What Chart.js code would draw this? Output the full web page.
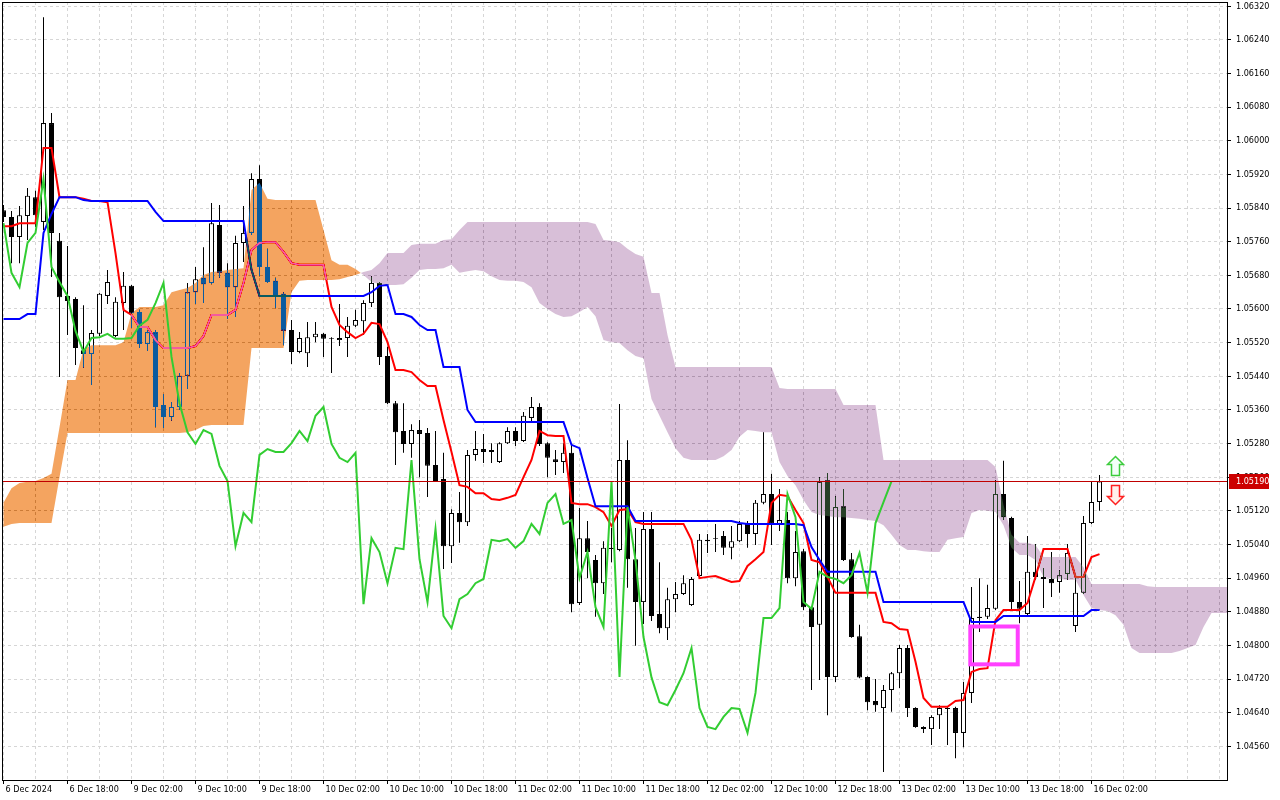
<!DOCTYPE html>
<html>
<head>
<meta charset="utf-8">
<title>EURUSD H1 - Ichimoku</title>
<script src="https://cdn.jsdelivr.net/npm/chart.js@4.4.1/dist/chart.umd.min.js"></script>
<style>
  html, body { margin: 0; padding: 0; background: #fff; }
  canvas { display: block; }
</style>
</head>
<body>
<canvas id="chart" width="1280" height="800"></canvas>
<script>
// bottom axis: one label every 8 hourly bars
const timeLabels = ['6 Dec 2024', '6 Dec 18:00', '9 Dec 02:00', '9 Dec 10:00', '9 Dec 18:00',
  '10 Dec 02:00', '10 Dec 10:00', '10 Dec 18:00', '11 Dec 02:00', '11 Dec 10:00', '11 Dec 18:00',
  '12 Dec 02:00', '12 Dec 10:00', '12 Dec 18:00', '13 Dec 02:00', '13 Dec 10:00', '13 Dec 18:00',
  '16 Dec 02:00'];

const priceTicks = [1.04560, 1.04640, 1.04720, 1.04800, 1.04880, 1.04960, 1.05040, 1.05120,
  1.05200, 1.05280, 1.05360, 1.05440, 1.05520, 1.05600, 1.05680, 1.05760, 1.05840, 1.05920,
  1.06000, 1.06080, 1.06160, 1.06240, 1.06320];

// H1 candles
const opens = [1.05835,1.05819,1.05771,1.05821,1.05866,1.05807,1.06042,1.05762,1.05631,1.05624,
  1.05502,1.05493,1.05541,1.05631,1.05536,1.05614,1.05655,1.05593,1.05517,1.05545,
  1.05372,1.05343,1.05367,1.05441,1.05640,1.05674,1.05662,1.05800,1.05686,1.05652,
  1.05757,1.05781,1.05909,1.05700,1.05667,1.05636,1.05550,1.05498,1.05495,1.05533,
  1.05541,1.05531,1.05526,1.05531,1.05560,1.05571,1.05614,1.05662,1.05488,1.05376,
  1.05310,1.05279,1.05312,1.05305,1.05229,1.05196,1.05036,1.05115,1.05093,1.05253,
  1.05267,1.05265,1.05236,1.05281,1.05310,1.05286,1.05341,1.05367,1.05281,1.05243,
  1.05236,1.05258,1.04901,1.05055,1.05003,1.04948,1.05032,1.05027,1.05241,1.05005,
  1.04903,1.05077,1.04875,1.04841,1.04910,1.04922,1.04896,1.04965,1.05051,1.05055,
  1.05060,1.05032,1.05048,1.05089,1.05065,1.05139,1.05160,1.05089,1.05098,1.04960,
  1.05024,1.04891,1.04849,1.05193,1.04725,1.05131,1.05005,1.04822,1.04725,1.04668,
  1.04651,1.04694,1.04734,1.04794,1.04651,1.04606,1.04601,1.04634,1.04651,1.04651,
  1.04592,1.04687,1.04868,1.04868,1.04887,1.05160,1.05103,1.04903,1.04875,1.04975,
  1.04963,1.04958,1.04951,1.04970,1.04846,1.04925,1.05091,1.05141];
const highs = [1.05847,1.05833,1.05845,1.05888,1.05881,1.06294,1.06066,1.05781,1.05750,1.05628,
  1.05609,1.05550,1.05638,1.05693,1.05628,1.05688,1.05657,1.05598,1.05550,1.05550,
  1.05398,1.05379,1.05448,1.05662,1.05700,1.05747,1.05852,1.05847,1.05709,1.05774,
  1.05845,1.05923,1.05942,1.05743,1.05674,1.05640,1.05574,1.05545,1.05569,1.05569,
  1.05543,1.05533,1.05612,1.05581,1.05598,1.05621,1.05678,1.05664,1.05510,1.05381,
  1.05376,1.05326,1.05336,1.05317,1.05310,1.05258,1.05124,1.05165,1.05265,1.05310,
  1.05303,1.05281,1.05283,1.05319,1.05319,1.05355,1.05391,1.05376,1.05283,1.05265,
  1.05281,1.05277,1.05127,1.05096,1.05015,1.05048,1.05079,1.05374,1.05288,1.05079,
  1.05117,1.05117,1.04998,1.04937,1.04951,1.04967,1.04963,1.05065,1.05065,1.05089,
  1.05072,1.05084,1.05096,1.05096,1.05146,1.05307,1.05208,1.05172,1.05117,1.05072,
  1.05029,1.04893,1.05200,1.05210,1.05155,1.05172,1.05020,1.04849,1.04727,1.04720,
  1.04706,1.04737,1.04801,1.04801,1.04653,1.04608,1.04634,1.04658,1.04654,1.04654,
  1.04713,1.04939,1.04960,1.04944,1.05193,1.05239,1.05106,1.04953,1.05060,1.05041,
  1.04984,1.05022,1.04979,1.05041,1.04970,1.05108,1.05189,1.05205];
const lows = [1.05807,1.05709,1.05709,1.05764,1.05795,1.05788,1.05676,1.05438,1.05538,1.05467,
  1.05460,1.05419,1.05536,1.05612,1.05533,1.05550,1.05555,1.05507,1.05500,1.05319,
  1.05317,1.05334,1.05360,1.05410,1.05612,1.05614,1.05659,1.05674,1.05576,1.05581,
  1.05712,1.05776,1.05678,1.05662,1.05602,1.05514,1.05469,1.05495,1.05462,1.05521,
  1.05486,1.05448,1.05512,1.05486,1.05557,1.05538,1.05605,1.05467,1.05374,1.05229,
  1.05258,1.05246,1.05200,1.05153,1.05189,1.04982,1.04996,1.05044,1.05084,1.05239,
  1.05234,1.05234,1.05234,1.05279,1.05274,1.05284,1.05329,1.05274,1.05200,1.05205,
  1.05210,1.04879,1.04896,1.04960,1.04868,1.04922,1.04998,1.05024,1.04937,1.04799,
  1.04851,1.04858,1.04829,1.04813,1.04879,1.04920,1.04894,1.04963,1.05020,1.05022,
  1.05015,1.05005,1.05046,1.05032,1.05039,1.05136,1.05039,1.05072,1.04948,1.04941,
  1.04884,1.04694,1.04718,1.04634,1.04713,1.05001,1.04818,1.04722,1.04646,1.04642,
  1.04499,1.04642,1.04699,1.04630,1.04604,1.04592,1.04563,1.04601,1.04563,1.04532,
  1.04558,1.04663,1.04832,1.04863,1.04884,1.05098,1.04884,1.04853,1.04872,1.04956,
  1.04889,1.04915,1.04925,1.04956,1.04832,1.04922,1.05089,1.05120];
const closes = [1.05819,1.05771,1.05823,1.05869,1.05823,1.06042,1.05781,1.05628,1.05619,1.05507,
  1.05493,1.05543,1.05636,1.05664,1.05617,1.05655,1.05590,1.05517,1.05545,1.05367,
  1.05343,1.05367,1.05441,1.05640,1.05671,1.05659,1.05804,1.05686,1.05652,1.05757,
  1.05781,1.05909,1.05700,1.05664,1.05631,1.05548,1.05498,1.05531,1.05533,1.05541,
  1.05529,1.05529,1.05531,1.05560,1.05574,1.05614,1.05662,1.05486,1.05376,1.05307,
  1.05279,1.05312,1.05303,1.05227,1.05191,1.05036,1.05115,1.05093,1.05253,1.05267,
  1.05260,1.05260,1.05281,1.05310,1.05286,1.05346,1.05367,1.05279,1.05246,1.05236,
  1.05258,1.04898,1.05055,1.05022,1.04948,1.05032,1.05029,1.05241,1.05005,1.04903,
  1.05077,1.04870,1.04841,1.04910,1.04922,1.04948,1.04958,1.05051,1.05048,1.05053,
  1.05032,1.05048,1.05089,1.05065,1.05139,1.05160,1.05089,1.05098,1.04960,1.05022,
  1.04891,1.04844,1.05189,1.04725,1.05129,1.05003,1.04820,1.04724,1.04665,1.04658,
  1.04694,1.04734,1.04794,1.04651,1.04606,1.04601,1.04630,1.04651,1.04649,1.04592,
  1.04687,1.04865,1.04865,1.04889,1.05160,1.05105,1.04903,1.04887,1.04975,1.04963,
  1.04958,1.04948,1.04967,1.05020,1.04925,1.05091,1.05141,1.05190];

// Ichimoku lines
const tenkan = [1.05797,1.05797,1.05804,1.05804,1.05804,1.05983,1.05983,1.05866,1.05866,1.05866,
  1.05862,1.05857,1.05857,1.05854,1.05733,1.05598,1.05586,1.05557,1.05557,1.05526,
  1.05507,1.05507,1.05507,1.05507,1.05512,1.05536,1.05586,1.05586,1.05586,1.05598,
  1.05662,1.05740,1.05757,1.05759,1.05759,1.05736,1.05709,1.05705,1.05705,1.05705,
  1.05705,1.05605,1.05562,1.05545,1.05531,1.05541,1.05567,1.05564,1.05521,1.05455,
  1.05455,1.05450,1.05431,1.05417,1.05417,1.05336,1.05260,1.05181,1.05177,1.05162,
  1.05162,1.05148,1.05146,1.05151,1.05158,1.05200,1.05241,1.05310,1.05300,1.05298,
  1.05298,1.05139,1.05136,1.05136,1.05129,1.05117,1.05084,1.05122,1.05124,1.05093,
  1.05089,1.05089,1.05089,1.05089,1.05089,1.05089,1.05051,1.04960,1.04963,1.04965,
  1.04958,1.04951,1.04953,1.04989,1.05005,1.05022,1.05139,1.05158,1.05155,1.05122,
  1.05091,1.05003,1.04998,1.04963,1.04925,1.04925,1.04925,1.04925,1.04925,1.04925,
  1.04856,1.04853,1.04839,1.04837,1.04761,1.04675,1.04654,1.04654,1.04654,1.04668,
  1.04670,1.04737,1.04744,1.04746,1.04860,1.04884,1.04884,1.04884,1.04901,1.04963,
  1.05029,1.05029,1.05029,1.05029,1.04963,1.04963,1.05010,1.05017];
const kijun = [1.05576,1.05576,1.05576,1.05588,1.05588,1.05781,1.05826,1.05866,1.05866,1.05866,
  1.05859,1.05857,1.05857,1.05857,1.05857,1.05857,1.05857,1.05857,1.05857,1.05831,
  1.05809,1.05809,1.05809,1.05809,1.05809,1.05809,1.05809,1.05809,1.05809,1.05809,
  1.05809,1.05693,1.05631,1.05631,1.05631,1.05631,1.05631,1.05631,1.05631,1.05631,
  1.05631,1.05631,1.05631,1.05631,1.05631,1.05631,1.05640,1.05655,1.05657,1.05588,
  1.05588,1.05581,1.05562,1.05550,1.05550,1.05462,1.05462,1.05462,1.05360,1.05331,
  1.05331,1.05331,1.05331,1.05331,1.05331,1.05331,1.05331,1.05331,1.05331,1.05331,
  1.05331,1.05277,1.05269,1.05198,1.05131,1.05131,1.05131,1.05131,1.05131,1.05096,
  1.05096,1.05096,1.05096,1.05096,1.05096,1.05096,1.05096,1.05096,1.05096,1.05096,
  1.05096,1.05096,1.05091,1.05089,1.05089,1.05089,1.05089,1.05089,1.05089,1.05089,
  1.05086,1.05034,1.05003,1.04975,1.04975,1.04975,1.04975,1.04975,1.04975,1.04975,
  1.04903,1.04903,1.04903,1.04903,1.04903,1.04903,1.04903,1.04903,1.04903,1.04903,
  1.04903,1.04856,1.04856,1.04856,1.04856,1.04870,1.04870,1.04870,1.04870,1.04870,
  1.04870,1.04870,1.04870,1.04870,1.04870,1.04870,1.04884,1.04884];
const chikou = [1.05804,1.05686,1.05652,1.05757,1.05781,1.05909,1.05700,1.05664,1.05631,1.05548,
  1.05498,1.05531,1.05533,1.05541,1.05529,1.05529,1.05531,1.05560,1.05574,1.05614,
  1.05662,1.05486,1.05376,1.05307,1.05279,1.05312,1.05303,1.05227,1.05191,1.05036,
  1.05115,1.05093,1.05253,1.05267,1.05260,1.05260,1.05281,1.05310,1.05286,1.05346,
  1.05367,1.05279,1.05246,1.05236,1.05258,1.04898,1.05055,1.05022,1.04948,1.05032,
  1.05029,1.05241,1.05005,1.04903,1.05077,1.04870,1.04841,1.04910,1.04922,1.04948,
  1.04958,1.05051,1.05048,1.05053,1.05032,1.05048,1.05089,1.05065,1.05139,1.05160,
  1.05089,1.05098,1.04960,1.05022,1.04891,1.04844,1.05189,1.04725,1.05129,1.05003,
  1.04820,1.04724,1.04665,1.04658,1.04694,1.04734,1.04794,1.04651,1.04606,1.04601,
  1.04630,1.04651,1.04649,1.04592,1.04687,1.04865,1.04865,1.04889,1.05160,1.05105,
  1.04903,1.04887,1.04975,1.04963,1.04958,1.04948,1.04967,1.05020,1.04925,1.05091,
  1.05141,1.05190];
const spanA = [1.05139,1.05174,1.05186,1.05189,1.05191,1.05198,1.05208,1.05319,1.05431,1.05431,
  1.05505,1.05514,1.05514,1.05514,1.05514,1.05521,1.05590,1.05605,1.05605,1.05605,
  1.05609,1.05640,1.05645,1.05650,1.05662,1.05681,1.05688,1.05690,1.05693,1.05695,
  1.05697,1.05883,1.05900,1.05862,1.05859,1.05859,1.05859,1.05859,1.05859,1.05859,
  1.05788,1.05716,1.05705,1.05705,1.05695,1.05681,1.05664,1.05659,1.05657,1.05657,
  1.05659,1.05674,1.05693,1.05695,1.05695,1.05697,1.05705,1.05686,1.05690,1.05693,
  1.05690,1.05678,1.05669,1.05667,1.05667,1.05664,1.05652,1.05614,1.05600,1.05588,
  1.05581,1.05583,1.05593,1.05605,1.05583,1.05526,1.05521,1.05519,1.05502,1.05488,
  1.05483,1.05386,1.05346,1.05307,1.05269,1.05246,1.05241,1.05241,1.05241,1.05241,
  1.05250,1.05265,1.05296,1.05312,1.05310,1.05307,1.05307,1.05236,1.05203,1.05181,
  1.05146,1.05117,1.05110,1.05108,1.05105,1.05105,1.05103,1.05101,1.05098,1.05096,
  1.05086,1.05063,1.05039,1.05027,1.05027,1.05024,1.05022,1.05022,1.05051,1.05055,
  1.05058,1.05115,1.05122,1.05120,1.05117,1.05086,1.05032,1.05015,1.05015,1.05003,
  1.04963,1.04960,1.04958,1.04956,1.04956,1.04920,1.04889,1.04884,1.04882,1.04872,
  1.04849,1.04794,1.04782,1.04782,1.04782,1.04782,1.04782,1.04787,1.04794,1.04801,
  1.04844,1.04877,1.04877,1.04877];
const spanB = [1.05082,1.05089,1.05091,1.05091,1.05091,1.05091,1.05091,1.05200,1.05305,1.05305,
  1.05305,1.05305,1.05305,1.05305,1.05305,1.05305,1.05305,1.05305,1.05305,1.05305,
  1.05305,1.05305,1.05305,1.05307,1.05312,1.05322,1.05324,1.05324,1.05324,1.05324,
  1.05324,1.05507,1.05507,1.05507,1.05507,1.05507,1.05640,1.05667,1.05669,1.05669,
  1.05669,1.05669,1.05671,1.05676,1.05681,1.05688,1.05693,1.05709,1.05733,1.05733,
  1.05733,1.05752,1.05755,1.05755,1.05755,1.05764,1.05766,1.05788,1.05807,1.05807,
  1.05807,1.05807,1.05807,1.05807,1.05807,1.05807,1.05807,1.05807,1.05807,1.05807,
  1.05807,1.05807,1.05807,1.05807,1.05802,1.05764,1.05762,1.05759,1.05743,1.05731,
  1.05724,1.05638,1.05638,1.05538,1.05462,1.05462,1.05462,1.05462,1.05462,1.05462,
  1.05462,1.05462,1.05462,1.05462,1.05462,1.05462,1.05462,1.05412,1.05410,1.05410,
  1.05410,1.05410,1.05410,1.05410,1.05410,1.05372,1.05372,1.05372,1.05372,1.05372,
  1.05241,1.05241,1.05241,1.05241,1.05241,1.05241,1.05241,1.05241,1.05241,1.05241,
  1.05241,1.05241,1.05241,1.05241,1.05224,1.05134,1.05063,1.05044,1.05044,1.05039,
  1.05010,1.05010,1.05010,1.05010,1.05010,1.04986,1.04946,1.04946,1.04946,1.04946,
  1.04946,1.04946,1.04946,1.04941,1.04939,1.04939,1.04939,1.04939,1.04939,1.04939,
  1.04939,1.04939,1.04939,1.04939];

const bidPrice = 1.05190;
// drawn objects (bar index, price)
const boxBars = [120.85, 126.78];
const boxPrices = [1.04845, 1.04755];
const arrowBars = [138.9, 138.9];
const arrowFrom = [1.05206, 1.05181];
const arrowTo = [1.05250, 1.05136];

const SPAN_A = 4, SPAN_B = 5;
const gridColor = 'rgb(214,214,214)';

Chart.defaults.font.family = "'DejaVu Sans Condensed', 'DejaVu Sans', sans-serif";
Chart.defaults.font.size = 9;
Chart.defaults.color = '#000';

const xy = arr => arr.map((v, i) => ({ x: i, y: v }));

// white page under everything, so the kumo blend has something to work on
const paperPlugin = {
  id: 'paper',
  beforeDraw(chart) {
    const { ctx, width, height } = chart;
    ctx.save();
    ctx.fillStyle = '#fff';
    ctx.fillRect(0, 0, width, height);
    ctx.restore();
  }
};

// kumo: filled between span A and span B, xor-like so candles inside change colour
const kumoPlugin = {
  id: 'kumo',
  beforeDatasetDraw(chart, args) {
    if (args.index !== SPAN_A) return;
    const a = chart.getDatasetMeta(SPAN_A).data;
    const b = chart.getDatasetMeta(SPAN_B).data;
    const ca = chart.chartArea;
    const ctx = chart.ctx;
    const up = new Path2D(), down = new Path2D();
    const poly = (p, pts) => {
      p.moveTo(pts[0][0], pts[0][1]);
      for (let k = 1; k < pts.length; k++) p.lineTo(pts[k][0], pts[k][1]);
      p.closePath();
    };
    const ok = p => p && isFinite(p.x) && isFinite(p.y);
    for (let i = 0; i < a.length - 1; i++) {
      const a0 = a[i], a1 = a[i + 1], b0 = b[i], b1 = b[i + 1];
      if (!ok(a0) || !ok(a1) || !ok(b0) || !ok(b1)) continue;
      const d0 = b0.y - a0.y, d1 = b1.y - a1.y;
      if ((d0 >= 0 && d1 >= 0) || (d0 <= 0 && d1 <= 0)) {
        poly(d0 + d1 >= 0 ? up : down, [[a0.x, a0.y], [a1.x, a1.y], [b1.x, b1.y], [b0.x, b0.y]]);
      } else {
        const t = d0 / (d0 - d1);
        const xm = a0.x + t * (a1.x - a0.x), ym = a0.y + t * (a1.y - a0.y);
        poly(d0 > 0 ? up : down, [[a0.x, a0.y], [xm, ym], [b0.x, b0.y]]);
        poly(d1 > 0 ? up : down, [[xm, ym], [a1.x, a1.y], [b1.x, b1.y]]);
      }
    }
    ctx.save();
    ctx.beginPath();
    ctx.rect(ca.left, ca.top, ca.right - ca.left, ca.bottom - ca.top);
    ctx.clip();
    ctx.globalCompositeOperation = 'difference';
    ctx.fillStyle = 'rgb(11,91,159)';   // gives sandybrown on white
    ctx.fill(up);
    ctx.fillStyle = 'rgb(39,64,39)';    // gives thistle on white
    ctx.fill(down);
    ctx.restore();
  }
};

const overlayPlugin = {
  id: 'overlay',
  afterDatasetsDraw(chart) {
    const { ctx, chartArea: ca, scales: { x, y } } = chart;
    ctx.save();
    ctx.beginPath();
    ctx.rect(ca.left, ca.top, ca.right - ca.left, ca.bottom - ca.top);
    ctx.clip();

    // bid line
    const yb = Math.round(y.getPixelForValue(bidPrice)) + 0.5;
    ctx.strokeStyle = 'rgb(192,0,0)';
    ctx.lineWidth = 1;
    ctx.beginPath();
    ctx.moveTo(ca.left, yb);
    ctx.lineTo(ca.right, yb);
    ctx.stroke();

    // rectangle object
    const bx0 = x.getPixelForValue(boxBars[0]), bx1 = x.getPixelForValue(boxBars[1]);
    const by0 = y.getPixelForValue(boxPrices[0]), by1 = y.getPixelForValue(boxPrices[1]);
    ctx.strokeStyle = 'rgb(255,64,255)';
    ctx.lineWidth = 4;
    ctx.strokeRect(bx0, by0, bx1 - bx0, by1 - by0);

    // signal arrows
    for (let k = 0; k < arrowBars.length; k++) {
      const cx = Math.round(x.getPixelForValue(arrowBars[k])) + 0.5;
      const tail = Math.round(y.getPixelForValue(arrowFrom[k])) + 0.5;
      const tip = Math.round(y.getPixelForValue(arrowTo[k])) + 0.5;
      const dir = tip < tail ? 1 : -1;
      const head = tip + dir * 8;
      ctx.beginPath();
      ctx.moveTo(cx, tip);
      ctx.lineTo(cx + 8, head);
      ctx.lineTo(cx + 4, head);
      ctx.lineTo(cx + 4, tail);
      ctx.lineTo(cx - 4, tail);
      ctx.lineTo(cx - 4, head);
      ctx.lineTo(cx - 8, head);
      ctx.closePath();
      ctx.fillStyle = dir > 0 ? '#f2fff8' : '#fff2ec';
      ctx.fill();
      ctx.lineWidth = 1.5;
      ctx.strokeStyle = dir > 0 ? '#3ccc3c' : '#ff2020';
      ctx.stroke();
    }
    ctx.restore();
  },
  afterDraw(chart) {
    const { ctx, chartArea: ca, scales: { y } } = chart;
    ctx.save();
    // frame
    ctx.strokeStyle = '#000';
    ctx.lineWidth = 1;
    ctx.strokeRect(ca.left + 0.5, ca.top + 0.5, ca.right - ca.left, ca.bottom - ca.top);
    // bid price tag
    const yb = Math.round(y.getPixelForValue(bidPrice));
    ctx.fillStyle = 'rgb(204,0,0)';
    ctx.fillRect(ca.right + 2, yb - 7, 40, 15);
    ctx.fillStyle = '#fff';
    ctx.font = "9px 'DejaVu Sans Condensed', 'DejaVu Sans', sans-serif";
    ctx.textBaseline = 'middle';
    ctx.textAlign = 'left';
    ctx.fillText(bidPrice.toFixed(5), ca.right + 9, yb + 0.5);
    ctx.restore();
  }
};

const noPad = s => { s.paddingTop = 0; s.paddingBottom = 0; s.paddingLeft = 0; s.paddingRight = 0; };

const ctx = document.getElementById('chart').getContext('2d');
new Chart(ctx, {
  type: 'line',
  data: {
    datasets: [
      {
        type: 'bar', label: 'Wicks',
        data: lows.map((l, i) => ({ x: i, y: [l, highs[i]] })),
        backgroundColor: '#000', borderWidth: 0, barThickness: 1,
        inflateAmount: 0, stack: 'candle', order: 6
      },
      {
        type: 'bar', label: 'Bodies',
        data: opens.map((o, i) => ({ x: i, y: [o, closes[i]] })),
        backgroundColor: opens.map((o, i) => closes[i] >= o ? '#fff' : '#000'),
        borderColor: '#000', borderWidth: 1, borderSkipped: false, barThickness: 5,
        inflateAmount: 0, stack: 'candle', order: 5
      },
      {
        label: 'Tenkan-sen', data: xy(tenkan), borderColor: '#ff0000', borderWidth: 2,
        pointRadius: 0, tension: 0, order: 4
      },
      {
        label: 'Kijun-sen', data: xy(kijun), borderColor: '#0000ff', borderWidth: 2,
        pointRadius: 0, tension: 0, order: 3
      },
      {
        label: 'Senkou Span A', data: xy(spanA), borderColor: 'rgba(0,0,0,0)', borderWidth: 0,
        showLine: false, pointRadius: 0, order: 2
      },
      {
        label: 'Senkou Span B', data: xy(spanB), borderColor: 'rgba(0,0,0,0)', borderWidth: 0,
        showLine: false, pointRadius: 0, order: 2
      },
      {
        label: 'Chikou Span', data: xy(chikou), borderColor: '#32cd32', borderWidth: 2,
        pointRadius: 0, tension: 0, order: 1
      }
    ]
  },
  options: {
    responsive: false,
    animation: false,
    devicePixelRatio: 1,
    events: [],
    layout: { autoPadding: false, padding: { left: 2, top: 2, right: 0, bottom: 0 } },
    plugins: { legend: { display: false }, tooltip: { enabled: false } },
    scales: {
      x: {
        type: 'linear', min: -0.1875, max: 152.9375, offset: false,
        afterBuildTicks: s => {
          const t = [];
          for (let v = 0; v <= 152; v += 4) t.push({ value: v });
          s.ticks = t;
        },
        afterFit: s => { s.height = 20; noPad(s); },
        ticks: {
          autoSkip: false, maxRotation: 0, minRotation: 0, align: 'start',
          labelOffset: 2, padding: 0, color: '#000',
          callback: v => (v % 8 === 0 && timeLabels[v / 8]) ? timeLabels[v / 8] : ''
        },
        grid: {
          offset: false, color: gridColor, lineWidth: 1, tickLength: 4,
          tickColor: c => (c.tick && c.tick.value % 8 === 0 && timeLabels[c.tick.value / 8]) ? '#000' : 'rgba(0,0,0,0)'
        },
        border: { display: false, dash: [3, 3] }
      },
      y: {
        position: 'right', min: 1.0448, max: 1.0633, beginAtZero: false, stacked: false,
        afterBuildTicks: s => { s.ticks = priceTicks.map(v => ({ value: v })); },
        afterFit: s => { s.width = 53; noPad(s); },
        ticks: { padding: 5, color: '#000', callback: v => v.toFixed(5) },
        grid: { color: gridColor, lineWidth: 1, tickLength: 4, tickColor: '#000' },
        border: { display: false, dash: [3, 3] }
      }
    }
  },
  plugins: [paperPlugin, kumoPlugin, overlayPlugin]
});
</script>
</body>
</html>
